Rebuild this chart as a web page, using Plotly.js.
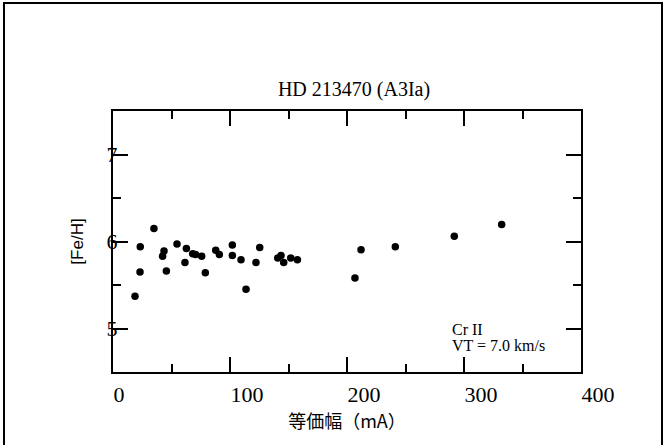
<!DOCTYPE html>
<html>
<head>
<meta charset="utf-8">
<script src="https://cdn.plot.ly/plotly-3.0.1.min.js"></script>
<style>html,body{margin:0;padding:0;background:#fff;}#chart{width:667px;height:445px;}</style>
</head>
<body>
<div id="chart"></div>
<script>
// Equivalent width (mA)
var equivWidth = [18.8, 23.3, 23.1, 35, 43.6, 42.4, 45.6, 54.7, 62.7, 61.5, 68.1, 70.6, 75.8, 78.9, 87.8, 90.9, 102, 102, 109.4, 113.7, 122.2, 125.4, 140.8, 143.6, 145.9, 151.9, 157.6, 206.8, 212, 241.3, 291.7, 332.2];
// [Fe/H]
var feH = [5.37, 5.94, 5.65, 6.15, 5.89, 5.83, 5.66, 5.97, 5.92, 5.76, 5.86, 5.85, 5.83, 5.64, 5.90, 5.85, 5.96, 5.84, 5.79, 5.45, 5.76, 5.93, 5.81, 5.84, 5.76, 5.81, 5.79, 5.58, 5.905, 5.94, 6.06, 6.195];

var xTickVals = [0, 100, 200, 300, 400];
var xTickLabels = ['0', '100', '200', '300', '400'];
var yTickVals = [5, 6, 7];
var yTickLabels = ['5', '6', '7'];

var chartTitle = 'HD 213470 (A3Ia)';
var xTitle = '等価幅（mA）';
var yTitle = '[Fe/H]';
var noteLines = ['Cr II', 'VT = 7.0 km/s'];

var serif = 'Liberation Serif, Times New Roman, serif';
var sans = 'Liberation Sans, Arial, sans-serif';

// pad labels to equal digit width so they start at their tick like the reference
var xTickText = xTickLabels.map(function (t) { return t + '\u2007'.repeat(3 - t.length); });

var trace = {
  x: equivWidth,
  y: feH,
  type: 'scatter',
  mode: 'markers',
  marker: {color: '#000', size: 7.5},
  hoverinfo: 'skip'
};

var L = 113, R = 86, T = 111, B = 73;
var W = 667, H = 445;
var pw = W - L - R, ph = H - T - B;
function px2x(p) { return (p - L) / pw; }
function px2y(p) { return (H - B - p) / ph; }

var layout = {
  width: W, height: H,
  margin: {l: L, r: R, t: T, b: B, pad: 0},
  paper_bgcolor: '#fff', plot_bgcolor: '#fff',
  showlegend: false,
  title: {text: chartTitle, font: {family: serif, size: 20, color: '#000'},
          x: 354 / W, xanchor: 'center', xref: 'container', y: 1 - 89 / H, yanchor: 'middle', yref: 'container'},
  xaxis: {
    range: [0, 400], tickvals: xTickVals, ticktext: xTickText,
    ticks: 'inside', ticklen: 15, tickwidth: 2, tickcolor: '#000',
    minor: {dtick: 50, tick0: 0, ticks: 'inside', ticklen: 8, tickwidth: 2, tickcolor: '#000', showgrid: false},
    showline: true, linecolor: '#000', linewidth: 2, mirror: 'ticks',
    showgrid: false, zeroline: false,
    ticklabelshift: 17, ticklabelstandoff: 2,
    tickfont: {family: serif, size: 22, color: '#000'},
    title: {text: xTitle, font: {family: 'Noto Sans CJK JP, sans-serif', size: 18, color: '#000'}, standoff: 1}
  },
  yaxis: {
    range: [4.5, 7.5], tickvals: yTickVals, ticktext: yTickLabels,
    ticks: 'inside', ticklen: 15, tickwidth: 2, tickcolor: '#000',
    minor: {dtick: 0.5, tick0: 0, ticks: 'inside', ticklen: 8, tickwidth: 2, tickcolor: '#000', showgrid: false},
    showline: true, linecolor: '#000', linewidth: 2, mirror: 'ticks',
    showgrid: false, zeroline: false,
    ticklabelstandoff: -11,
    tickfont: {family: serif, size: 22, color: '#000'},
    title: {text: yTitle, font: {family: sans, size: 17, color: '#000'}, standoff: 19}
  },
  annotations: [
    {text: noteLines[0], xref: 'paper', yref: 'paper', x: px2x(450), y: px2y(329), xanchor: 'left', yanchor: 'middle',
     showarrow: false, font: {family: serif, size: 16, color: '#000'}},
    {text: noteLines[1], xref: 'paper', yref: 'paper', x: px2x(450), y: px2y(345), xanchor: 'left', yanchor: 'middle',
     showarrow: false, font: {family: serif, size: 16, color: '#000'}}
  ],
  shapes: [
    {type: 'rect', xref: 'paper', yref: 'paper', x0: px2x(4), x1: px2x(662), y0: px2y(460), y1: px2y(3),
     line: {color: '#000', width: 2}, fillcolor: 'rgba(0,0,0,0)', layer: 'below'}
  ]
};

Plotly.newPlot('chart', [trace], layout, {staticPlot: true, displayModeBar: false});
</script>
</body>
</html>
